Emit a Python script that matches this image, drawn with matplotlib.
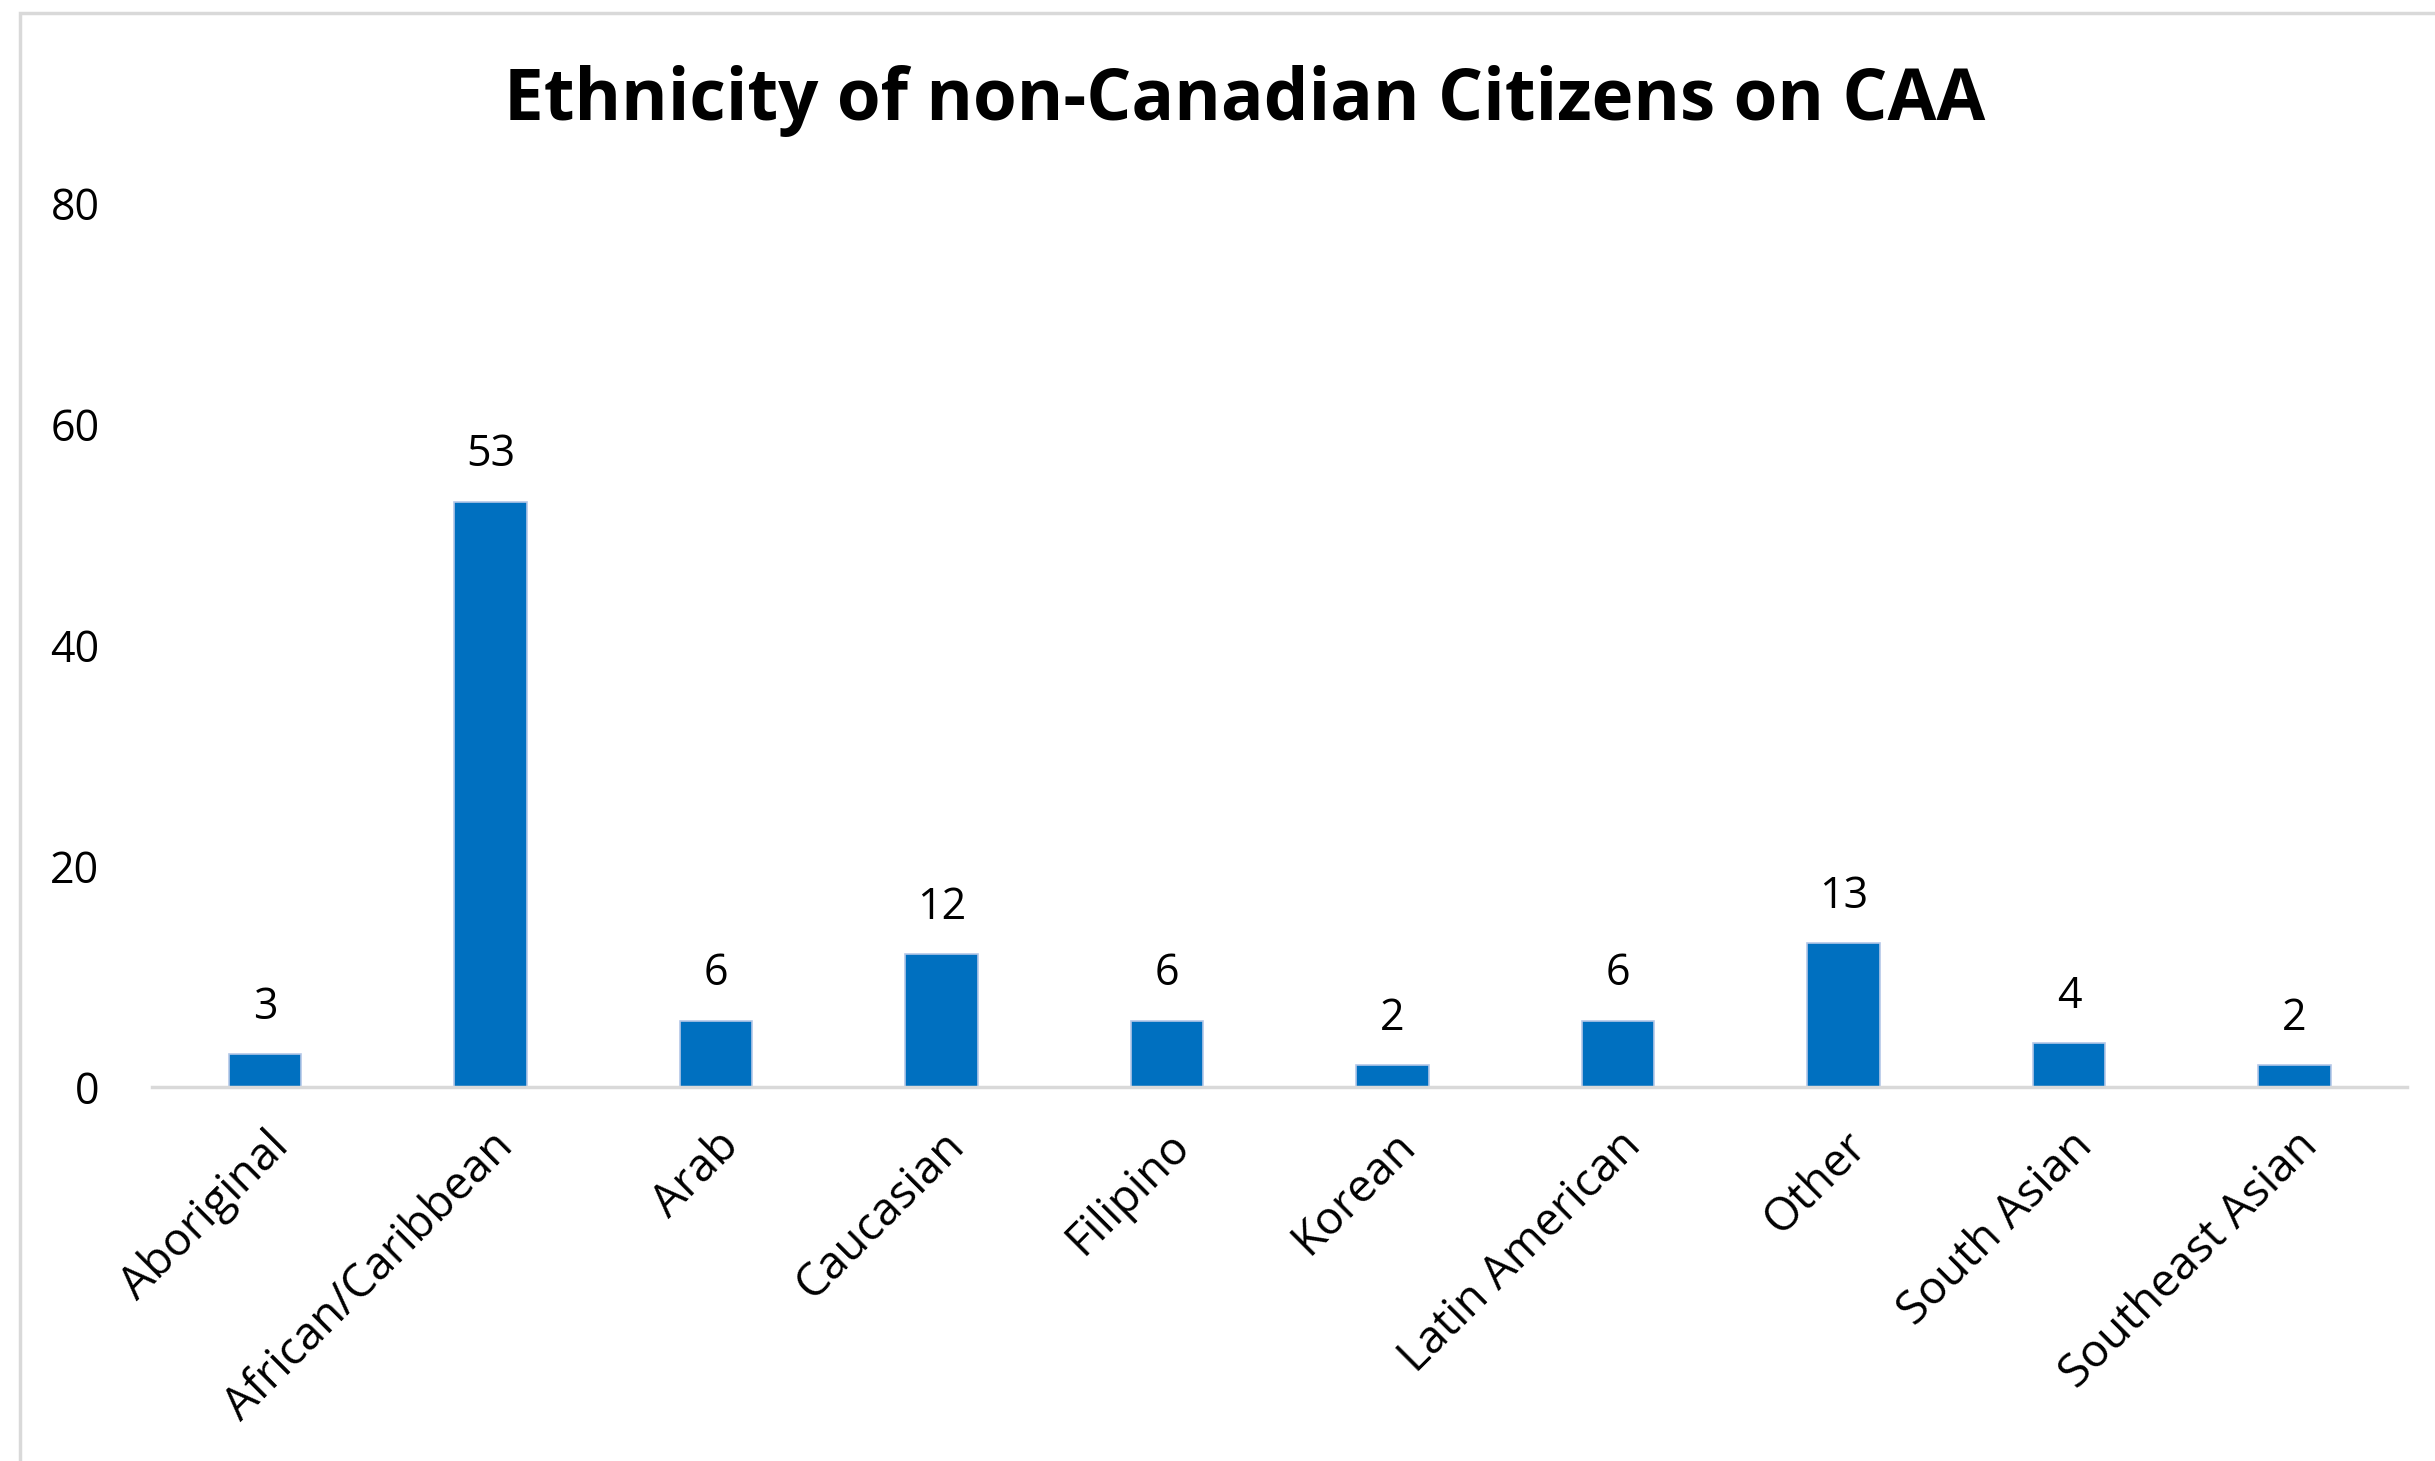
import matplotlib
matplotlib.use('Agg')
from matplotlib import pyplot as plt
from matplotlib.patches import Rectangle

categories = ['Aboriginal', 'African/Caribbean', 'Arab', 'Caucasian', 'Filipino',
              'Korean', 'Latin American', 'Other', 'South Asian', 'Southeast Asian']
counts = [3, 53, 6, 12, 6, 2, 6, 13, 4, 2]
y_ticks = [0, 20, 40, 60, 80]

plt.rcParams['font.family'] = ['Open Sans', 'DejaVu Sans']

fig = plt.figure(figsize=(24.35, 14.61), dpi=100)
ax = fig.add_axes([0.0625, 0.256, 0.9261, 0.6047])

x = list(range(len(categories)))
bars = ax.bar(x, counts, width=0.32, color='#0070C0', edgecolor='#b4c7e7', linewidth=1.2)

for xi, v in zip(x, counts):
    ax.text(xi, v + 2.2, str(v), ha='center', va='bottom', fontsize=31, color='#000000')

ax.set_xlim(-0.5, len(categories) - 0.5)
ax.set_ylim(0, 80)
ax.set_yticks(y_ticks)
ax.set_xticks(x)
ax.set_xticklabels(categories, rotation=45, ha='right', rotation_mode='anchor', fontsize=33)
ax.tick_params(axis='y', length=0, labelsize=31, pad=38)
ax.tick_params(axis='x', length=0, pad=26)

for side in ['top', 'right', 'left']:
    ax.spines[side].set_visible(False)
ax.spines['bottom'].set_color('#d9d9d9')
ax.spines['bottom'].set_linewidth(2.5)

fig.text(0.511, 0.931, 'Ethnicity of non-Canadian Citizens on CAA', ha='center', va='center',
         fontsize=51, fontweight='bold')

# chart area border
fig.patches.append(Rectangle((20 / 2435, -0.05), 1.2, 1.05 - 12.5 / 1461, transform=fig.transFigure,
                             fill=False, edgecolor='#d9d9d9', linewidth=2.5))

fig.savefig('out.png', dpi=100)
